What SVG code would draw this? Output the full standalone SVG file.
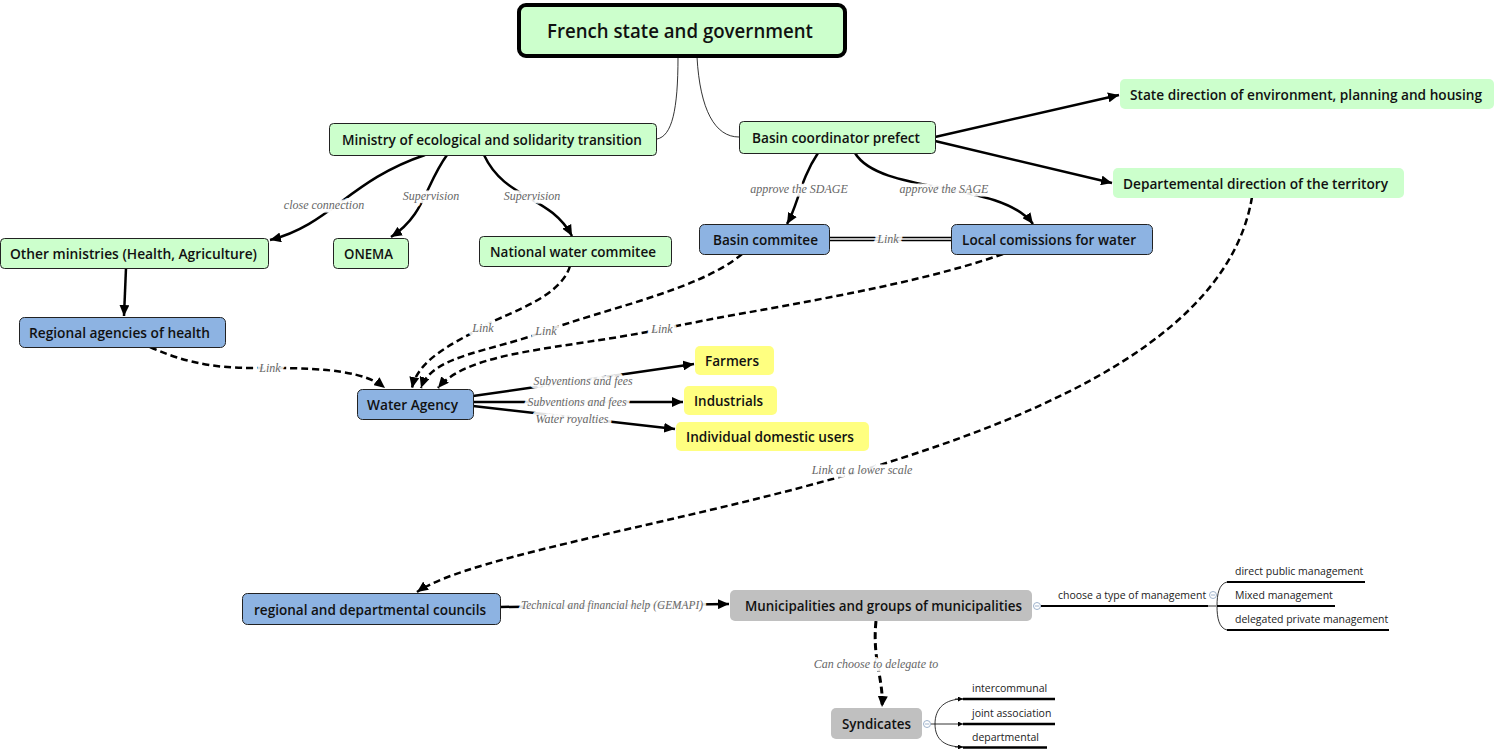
<svg xmlns="http://www.w3.org/2000/svg" width="1494" height="749" viewBox="0 0 1494 749">
<defs>
<marker id="arr" markerWidth="12" markerHeight="10" refX="11" refY="5" orient="auto" markerUnits="userSpaceOnUse"><path d="M0,0 L11,5 L0,10 z" fill="#000"/></marker>
<marker id="sarr" markerWidth="6" markerHeight="5" refX="5" refY="2.5" orient="auto" markerUnits="userSpaceOnUse"><path d="M0,0 L5,2.5 L0,5 z" fill="#000"/></marker>
<style>
.n text{font-family:"Open Sans",sans-serif;font-weight:600;font-size:14px;fill:#111;text-anchor:middle;dominant-baseline:central}
.g{fill:#ccffcc;stroke:#222;stroke-width:1}
.gl{fill:#ccffcc;stroke:none}
.b{fill:#8db3e2;stroke:#222;stroke-width:1}
.y{fill:#ffff80;stroke:none}
.gr{fill:#c0c0c0;stroke:none}
.c path,.c line{fill:none;stroke:#000;stroke-width:2.5}
.c .d{stroke-dasharray:7,4}
.c .t{stroke-width:0.8}
.lb{font-family:"Liberation Serif",serif;font-style:italic;font-size:12px;fill:#666;text-anchor:middle;dominant-baseline:central;stroke:#fff;stroke-width:7;stroke-opacity:0.9;paint-order:stroke;stroke-linejoin:round}
.mm{font-family:"Open Sans",sans-serif;font-size:10.5px;fill:#222}
.ic{fill:#fff;stroke:#9fb3cc;stroke-width:1}
</style>
</defs>

<g id="connectors" class="c">
<path class="t" d="M678,57 C678,110 672,136 657,139"/>
<path class="t" d="M697,57 C700,110 715,137 739,137"/>
<path d="M425,155 C350,180 330,225 270,240" marker-end="url(#arr)"/>
<path d="M447,155 C425,185 425,215 391,237" marker-end="url(#arr)"/>
<path d="M484,155 C505,200 550,195 572,236" marker-end="url(#arr)"/>
<path d="M818,153 C800,180 798,205 787,224" marker-end="url(#arr)"/>
<path d="M855,153 C880,195 1000,180 1033,224" marker-end="url(#arr)"/>
<path d="M935,137 L1119,95" marker-end="url(#arr)"/>
<path d="M935,141 L1112,183" marker-end="url(#arr)"/>
<path d="M829,237.5 L951,237.5" style="stroke-width:1.6"/>
<path d="M829,240.5 L951,240.5" style="stroke-width:1.6"/>
<path d="M126,268 L124,316" marker-end="url(#arr)"/>
<path class="d" d="M150,347 C200,370 240,368 270,368 C330,368 365,372 385,388" marker-end="url(#arr)"/>
<path class="d" d="M570,266 C560,300 500,315 483,327 C450,345 418,360 412,388" marker-end="url(#arr)"/>
<path class="d" d="M742,254 C700,290 600,310 546,331 C490,352 432,355 421,388" marker-end="url(#arr)"/>
<path class="d" d="M1003,254 C900,290 760,308 662,329 C560,350 470,350 438,388" marker-end="url(#arr)"/>
<path d="M473,396 L694,364" marker-end="url(#arr)"/>
<path d="M473,402 L683,402" marker-end="url(#arr)"/>
<path d="M473,406 L675,429" marker-end="url(#arr)"/>
<path class="d" d="M1252,197 C1230,330 1060,410 870,468 C700,520 470,555 417,592" marker-end="url(#arr)"/>
<path d="M500,607 L729,604" marker-end="url(#arr)"/>
<path class="d" style="stroke-width:3" d="M876,621 C872,660 884,680 882,707" marker-end="url(#arr)"/>
<path style="stroke-width:2" d="M1041,606 L1208,606"/>
<path class="t" d="M1208,606 L1216,606"/>
<path class="t" d="M1227,582 C1219,584 1217,594 1217,606 C1217,618 1219,628 1227,630"/>
<path style="stroke-width:2" d="M1227,582 L1365,582"/>
<path style="stroke-width:2" d="M1217,606 L1335,606"/>
<path style="stroke-width:2" d="M1227,630 L1389,630"/>
<path class="t" d="M931,724 L963,724" marker-end="url(#sarr)"/>
<path class="t" d="M963,699 C945,699 935,708 935,724 C935,740 945,747 963,747" />
<path class="t" d="M955,699 L963,699" marker-end="url(#sarr)"/>
<path class="t" d="M955,747 L963,747" marker-end="url(#sarr)"/>
<path style="stroke-width:2.5" d="M963,699 L1055,699"/>
<path style="stroke-width:2.5" d="M963,724 L1055,724"/>
<path style="stroke-width:2.5" d="M963,747.5 L1047,747.5"/>
</g>

<g id="labels">
<text class="lb" x="324" y="205">close connection</text>
<text class="lb" x="431" y="196">Supervision</text>
<text class="lb" x="532" y="196">Supervision</text>
<text class="lb" x="799" y="189">approve the SDAGE</text>
<text class="lb" x="944" y="189">approve the SAGE</text>
<text class="lb" x="888" y="239">Link</text>
<text class="lb" x="483" y="328">Link</text>
<text class="lb" x="546" y="331">Link</text>
<text class="lb" x="662" y="329">Link</text>
<text class="lb" x="270" y="368">Link</text>
<text class="lb" x="583" y="381" textLength="99" lengthAdjust="spacingAndGlyphs">Subventions and fees</text>
<text class="lb" x="577" y="402" textLength="99" lengthAdjust="spacingAndGlyphs">Subventions and fees</text>
<text class="lb" x="572" y="419">Water royalties</text>
<text class="lb" x="862" y="470">Link at a lower scale</text>
<text class="lb" x="612" y="605" textLength="182" lengthAdjust="spacingAndGlyphs">Technical and financial help (GEMAPI)</text>
<text class="lb" x="876" y="664">Can choose to delegate to</text>
</g>

<g id="n-french" class="n"><rect x="519" y="5" width="326" height="51" rx="7" fill="#ccffcc" stroke="#000" stroke-width="4"/><text x="680" y="31" style="font-size:19px;font-weight:600" textLength="266" lengthAdjust="spacingAndGlyphs">French state and government</text></g>
<g id="n-ministry" class="n"><rect class="g" x="329.5" y="123.5" width="327" height="32" rx="4"/><text x="492" y="139" textLength="300" lengthAdjust="spacingAndGlyphs">Ministry of ecological and solidarity transition</text></g>
<g id="n-basincoord" class="n"><rect class="g" x="739.5" y="121.5" width="196" height="32" rx="4"/><text x="836" y="137" textLength="168" lengthAdjust="spacingAndGlyphs">Basin coordinator prefect</text></g>
<g id="n-statedir" class="n"><rect class="gl" x="1120" y="79" width="374" height="30" rx="5"/><text x="1306" y="94" textLength="352" lengthAdjust="spacingAndGlyphs">State direction of environment, planning and housing</text></g>
<g id="n-depdir" class="n"><rect class="gl" x="1113" y="168" width="291" height="30" rx="5"/><text x="1255.5" y="183" textLength="265" lengthAdjust="spacingAndGlyphs">Departemental direction of the territory</text></g>
<g id="n-othermin" class="n"><rect class="g" x="0.5" y="238.5" width="268" height="30" rx="4"/><text x="133.5" y="253" textLength="247" lengthAdjust="spacingAndGlyphs">Other ministries (Health, Agriculture)</text></g>
<g id="n-onema" class="n"><rect class="g" x="333.5" y="238.5" width="75" height="30" rx="4"/><text x="368.5" y="253" textLength="49" lengthAdjust="spacingAndGlyphs">ONEMA</text></g>
<g id="n-natwater" class="n"><rect class="g" x="479.5" y="236.5" width="192" height="30" rx="4"/><text x="573" y="251" textLength="166" lengthAdjust="spacingAndGlyphs">National water commitee</text></g>
<g id="n-basincom" class="n"><rect class="b" x="699.5" y="224.5" width="130" height="30" rx="5"/><text x="765.5" y="239" textLength="105" lengthAdjust="spacingAndGlyphs">Basin commitee</text></g>
<g id="n-localcom" class="n"><rect class="b" x="951.5" y="224.5" width="201" height="30" rx="5"/><text x="1049" y="239" textLength="174" lengthAdjust="spacingAndGlyphs">Local comissions for water</text></g>
<g id="n-regagency" class="n"><rect class="b" x="19.5" y="317.5" width="206" height="30" rx="5"/><text x="119.5" y="332" textLength="181" lengthAdjust="spacingAndGlyphs">Regional agencies of health</text></g>
<g id="n-wateragency" class="n"><rect class="b" x="357.5" y="389.5" width="116" height="30" rx="5"/><text x="412.5" y="404" textLength="91" lengthAdjust="spacingAndGlyphs">Water Agency</text></g>
<g id="n-farmers" class="n"><rect class="y" x="695" y="346" width="79" height="29" rx="5"/><text x="732" y="360.5" textLength="54" lengthAdjust="spacingAndGlyphs">Farmers</text></g>
<g id="n-industrials" class="n"><rect class="y" x="684" y="386" width="93" height="29" rx="5"/><text x="728.5" y="400.5" textLength="69" lengthAdjust="spacingAndGlyphs">Industrials</text></g>
<g id="n-domestic" class="n"><rect class="y" x="676" y="422" width="193" height="29" rx="5"/><text x="770" y="436.5" textLength="168" lengthAdjust="spacingAndGlyphs">Individual domestic users</text></g>
<g id="n-councils" class="n"><rect class="b" x="242.5" y="593.5" width="258" height="31" rx="5"/><text x="370" y="609" textLength="232" lengthAdjust="spacingAndGlyphs">regional and departmental councils</text></g>
<g id="n-municip" class="n"><rect class="gr" x="730" y="590" width="302" height="31" rx="5"/><text x="883.5" y="605.5" textLength="277" lengthAdjust="spacingAndGlyphs">Municipalities and groups of municipalities</text></g>
<g id="n-syndicates" class="n"><rect class="gr" x="831" y="708" width="91" height="31" rx="5"/><text x="876.5" y="723.5" textLength="69" lengthAdjust="spacingAndGlyphs">Syndicates</text></g>

<g id="mm-management">
<circle class="ic" cx="1037" cy="606" r="3.5"/><line x1="1035" y1="606" x2="1039" y2="606" stroke="#9fb3cc" stroke-width="1"/>
<text class="mm" x="1058" y="599">choose a type of management</text>
<circle class="ic" cx="1213" cy="595" r="3.5"/><line x1="1211" y1="595" x2="1215" y2="595" stroke="#9fb3cc" stroke-width="1"/>
<text class="mm" x="1235" y="575">direct public management</text>
<text class="mm" x="1235" y="599">Mixed management</text>
<text class="mm" x="1235" y="623">delegated private management</text>
</g>
<g id="mm-syndicates">
<circle class="ic" cx="927" cy="724" r="3.5"/><line x1="925" y1="724" x2="929" y2="724" stroke="#9fb3cc" stroke-width="1"/>
<text class="mm" x="972" y="692">intercommunal</text>
<text class="mm" x="972" y="717">joint association</text>
<text class="mm" x="972" y="741">departmental</text>
</g>
</svg>
